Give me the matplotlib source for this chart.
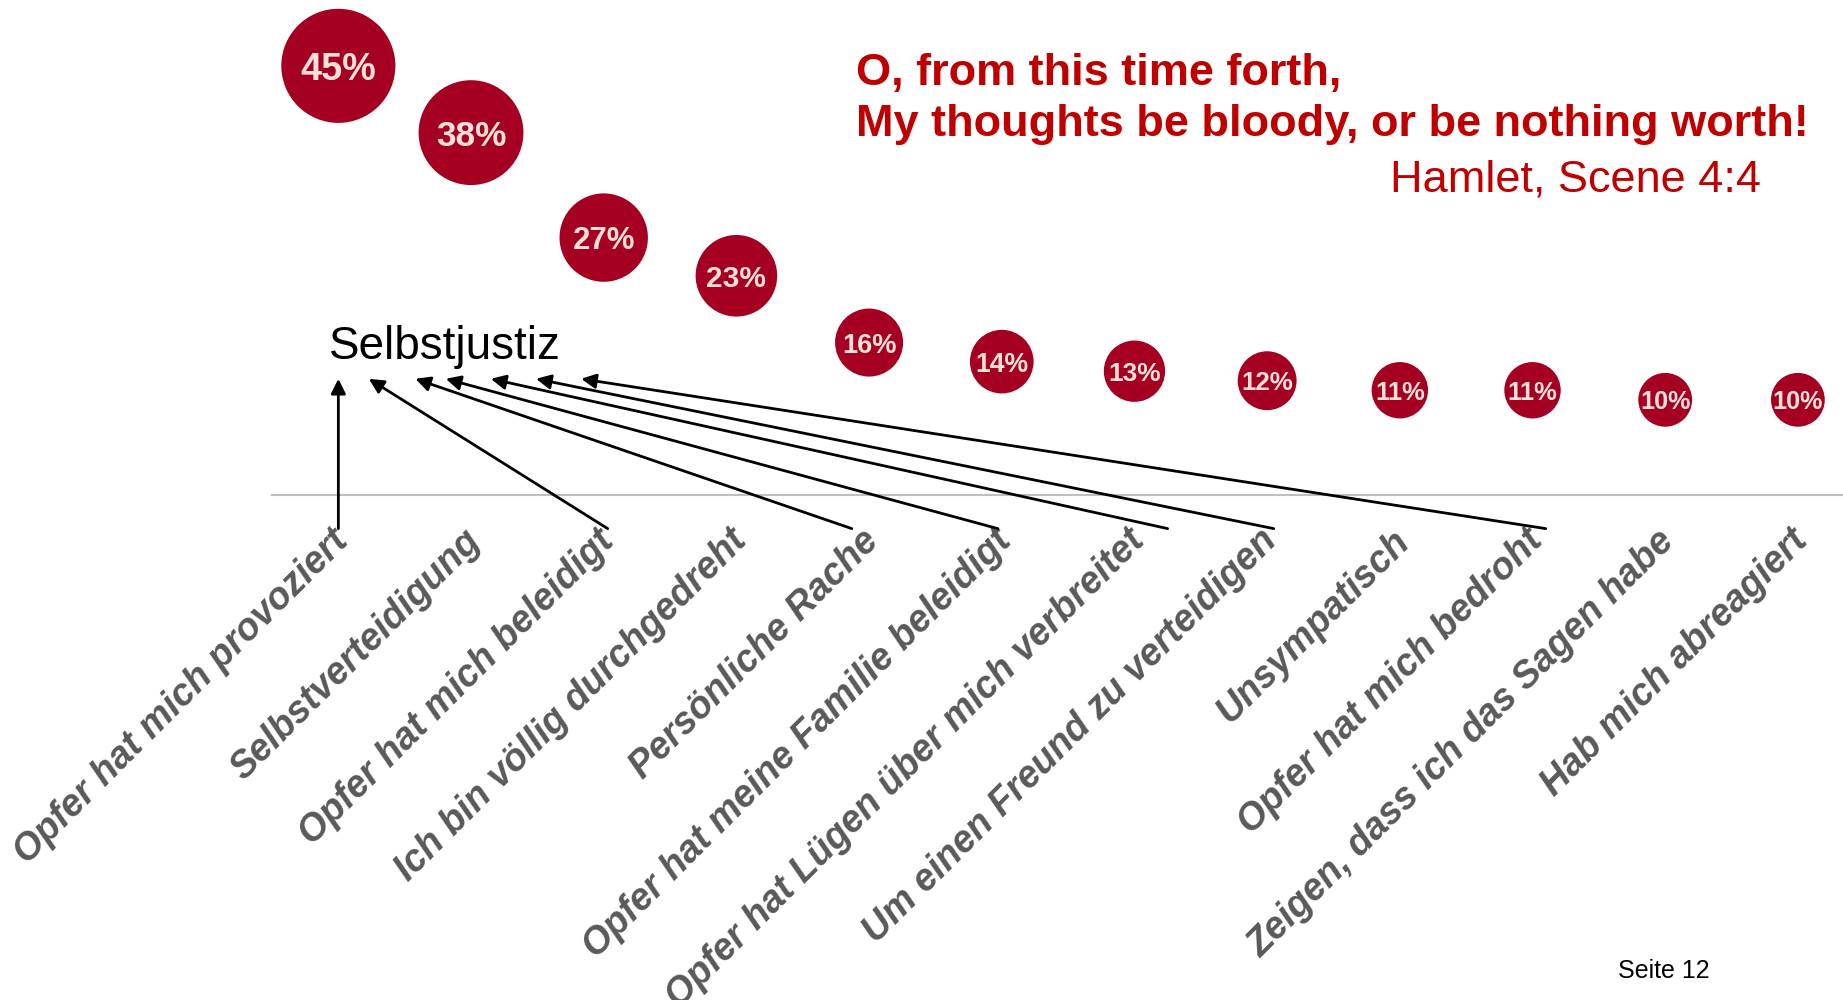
import matplotlib.pyplot as plt
from matplotlib.transforms import ScaledTranslation

plt.rcParams["font.family"] = ["Liberation Sans", "DejaVu Sans"]

# Gründe für die Tat (Anteil in %)
categories = [
    "Opfer hat mich provoziert",
    "Selbstverteidigung",
    "Opfer hat mich beleidigt",
    "Ich bin völlig durchgedreht",
    "Persönliche Rache",
    "Opfer hat meine Familie beleidigt",
    "Opfer hat Lügen über mich verbreitet",
    "Um einen Freund zu verteidigen",
    "Unsympatisch",
    "Opfer hat mich bedroht",
    "Zeigen, dass ich das Sagen habe",
    "Hab mich abreagiert",
]
values = [45, 38, 27, 23, 16, 14, 13, 12, 11, 11, 10, 10]

# arrows from the "Selbstjustiz" reasons up to the heading
arrow_tail_x = [0.0, 2.03, 3.87, 4.97, 6.25, 7.05, 9.1]
arrow_tip_x = [0.0, 0.23, 0.58, 0.81, 1.15, 1.49, 1.83]
arrow_tail_y = -3.5
arrow_tip_y = 12.2

RED = "#A50021"
TEXT_RED = "#C00000"

fig = plt.figure(figsize=(18.43, 10), dpi=100)
ax = fig.add_axes([272 / 1843, 0, 1 - 272 / 1843, 1])

for side in ["top", "left", "right"]:
    ax.spines[side].set_visible(False)
ax.spines["bottom"].set_position(("data", 0))
ax.spines["bottom"].set_color("#BFBFBF")
ax.spines["bottom"].set_linewidth(1.5)
ax.patch.set_alpha(0)

x = list(range(len(categories)))
ax.scatter(x, values, s=[150 * v for v in values], color=RED,
           edgecolors="none", zorder=3, clip_on=False)

for xi, v in zip(x, values):
    ax.text(xi, v, f"{v}%", ha="center", va="center_baseline",
            fontsize=15.5 + 0.26 * v, fontweight="bold", color="#F9E0D9",
            zorder=4)

for tx, hx in zip(arrow_tail_x, arrow_tip_x):
    ax.annotate("", xy=(hx, arrow_tip_y), xytext=(tx, arrow_tail_y),
                arrowprops=dict(arrowstyle="-|>", color="black", lw=2,
                                mutation_scale=22, shrinkA=0, shrinkB=0),
                annotation_clip=False)

ax.text(-0.07, 14.3, "Selbstjustiz", fontsize=33, color="black",
        va="baseline", ha="left")

ax.set_xlim(-0.5, 11.34)
ax.set_ylim(-52.9, 51.9)
ax.set_yticks([])
ax.set_xticks(x)
ax.set_xticklabels(categories, rotation=45, ha="right", va="top",
                   rotation_mode="anchor", fontsize=27, fontweight="bold",
                   fontstyle="italic", color="#595959")
ax.tick_params(axis="x", length=0, pad=20)
shift = ScaledTranslation(-6 / 72, 0, fig.dpi_scale_trans)
for lbl in ax.get_xticklabels():
    lbl.set_transform(lbl.get_transform() + shift)

fig.text(856 / 1843, 1 - 85 / 1000, "O, from this time forth,",
         fontsize=32.5, fontweight="bold", color=TEXT_RED, va="baseline")
fig.text(856 / 1843, 1 - 136 / 1000,
         "My thoughts be bloody, or be nothing worth!",
         fontsize=32.5, fontweight="bold", color=TEXT_RED, va="baseline")
fig.text(1761 / 1843, 1 - 191 / 1000, "Hamlet, Scene 4:4",
         fontsize=32.5, color=TEXT_RED, va="baseline", ha="right")

fig.text(1618 / 1843, 1 - 978 / 1000, "Seite 12", fontsize=18,
         color="black", va="baseline")

fig.savefig("out.png", dpi=100)
plt.close(fig)
